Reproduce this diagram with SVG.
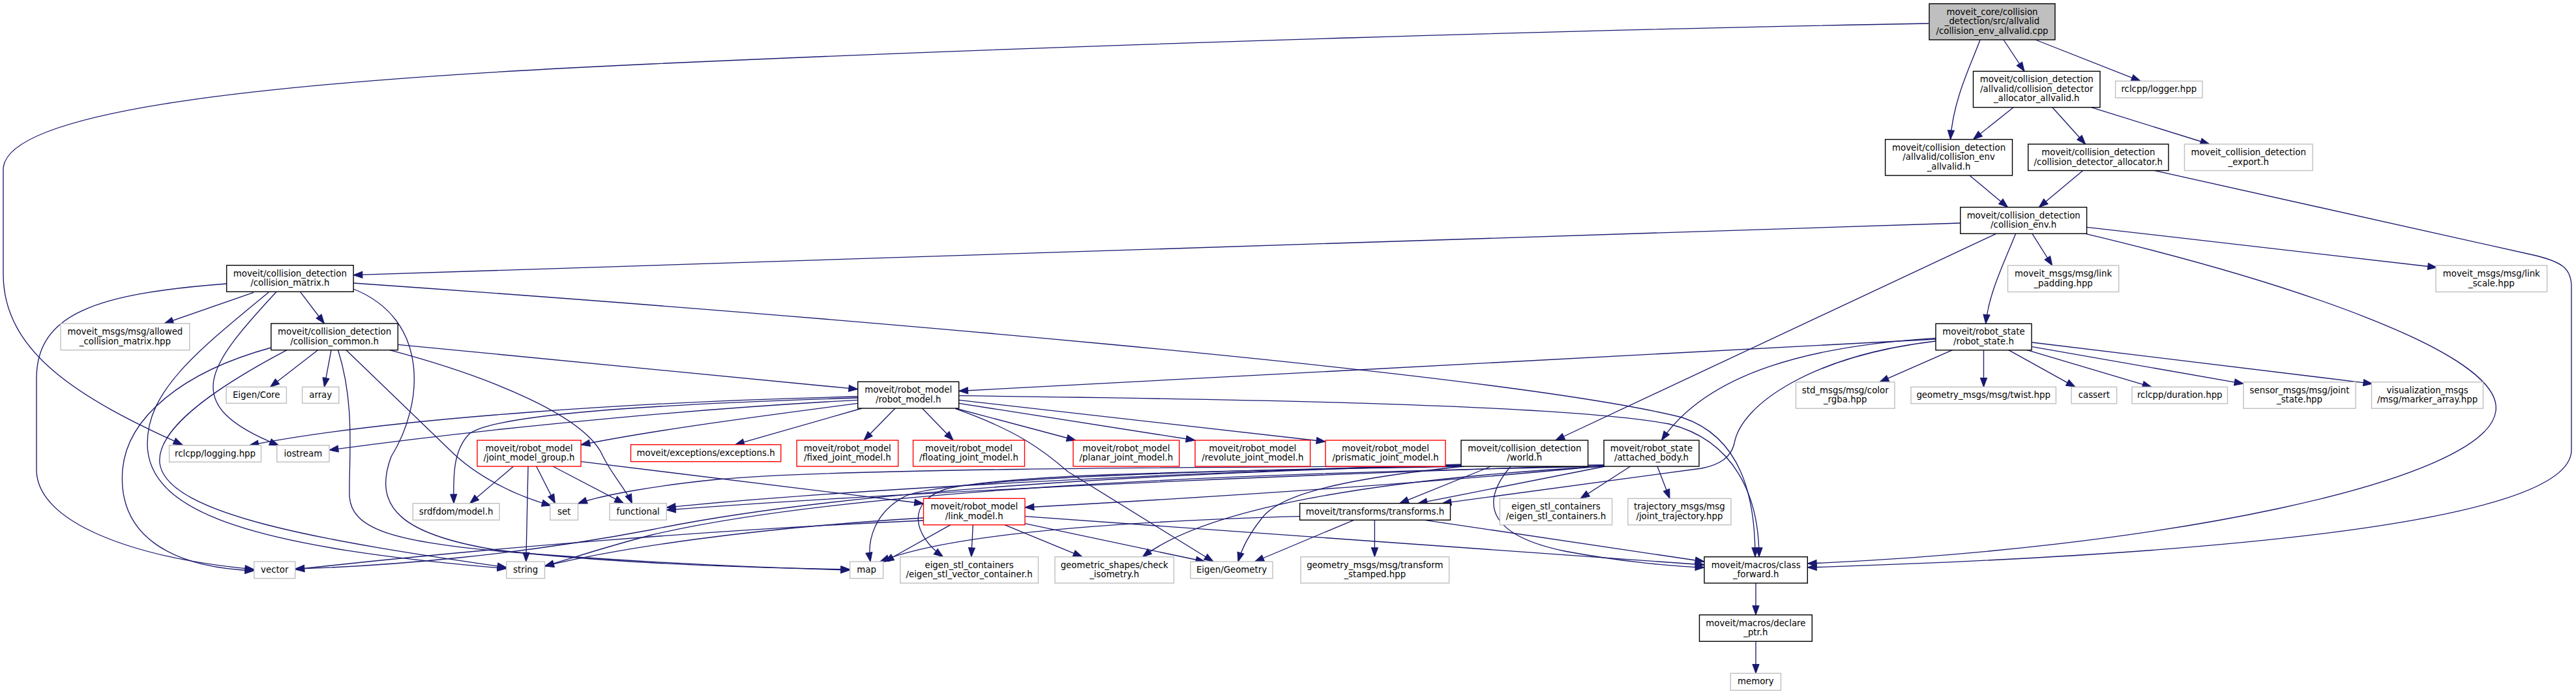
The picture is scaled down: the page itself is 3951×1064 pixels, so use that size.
<svg xmlns="http://www.w3.org/2000/svg" width="3951" height="1064" viewBox="0 0 3951 1064">
<style>
.t{font-family:"DejaVu Sans","Liberation Sans",sans-serif;font-size:13.33px;text-anchor:middle;fill:#000}
.blk{fill:#fff;stroke:#000;stroke-width:1.4}
.gry{fill:#fff;stroke:#bfbfbf;stroke-width:1.4}
.red{fill:#fff;stroke:#ff0000;stroke-width:1.4}
.root{fill:#bfbfbf;stroke:#000;stroke-width:1.4}
.e{fill:none;stroke:#191970;stroke-width:1.33;marker-end:url(#ah)}
</style>
<defs>
<marker id="ah" markerUnits="userSpaceOnUse" markerWidth="14" markerHeight="10" refX="13" refY="4.7" orient="auto" viewBox="0 0 13 9.4" overflow="visible">
<path d="M0,0 L13,4.7 L0,9.4 z" fill="#191970" stroke="#191970" stroke-width="1"/>
</marker>
</defs>
<rect x="0" y="0" width="3951" height="1064" fill="#fff"/>
<g id="edges">
<path class="e" d="M2958,36 C2500,44 1700,66 1000,98 C400,125 5,170 5,260 L5,420 C5,540 120,610 280,682"/>
<path class="e" d="M3073,61 L3105,109.3"/>
<path class="e" d="M3037,61 C3025,95 2996,150 2991.5,213.7"/>
<path class="e" d="M3122,61 L3283,124.3"/>
<path class="e" d="M3088,164.7 L3026.5,213.7"/>
<path class="e" d="M3148,164.7 L3198.7,221"/>
<path class="e" d="M3207.7,164.7 L3388.8,221"/>
<path class="e" d="M3020,268.3 L3079.5,317.7"/>
<path class="e" d="M3195,261.3 L3127.3,317.7"/>
<path class="e" d="M3304,261.3 L3890,392 C3930,402 3944,412 3944,440 L3944,690 C3944,790 3500,847 2772.3,870"/>
<path class="e" d="M3006.8,342 L542,421.7"/>
<path class="e" d="M3117,358.3 L3147.7,407"/>
<path class="e" d="M3200.6,348.3 L3737.6,410"/>
<path class="e" d="M3091.6,358.3 C3075,400 3050,450 3045.7,496.3"/>
<path class="e" d="M3061.6,358.3 L2385.8,675"/>
<path class="e" d="M3198.7,358.3 C3500,430 3840,540 3828,630 C3815,740 3300,842 2772.3,864"/>
<path class="e" d="M389,448.3 L252,496"/>
<path class="e" d="M460.5,447.3 L497.4,496"/>
<path class="e" d="M347.6,435 C150,450 56,480 56,580 L56,720 C56,800 200,855 389.7,873"/>
<path class="e" d="M424,447.3 C320,560 270,620 427.3,682.7"/>
<path class="e" d="M413,447.3 C300,540 226,600 226,680 C226,790 400,840 776.8,871.7"/>
<path class="e" d="M542,443 C660,490 650,620 600,700 C570,780 620,820 760,843 C900,860 1100,870 1303.6,873"/>
<path class="e" d="M542,434 C1200,480 2300,570 2580,640 C2670,670 2692,760 2692,853.7"/>
<path class="e" d="M415.8,533 C280,570 195,640 188,720 C180,820 260,870 389.7,875"/>
<path class="e" d="M440,536.7 C320,600 240,660 245,710 C255,790 500,830 776.8,870"/>
<path class="e" d="M487.5,536.7 L414.5,593.3"/>
<path class="e" d="M508,536.7 L497.4,593.3"/>
<path class="e" d="M518.5,536.7 C545,620 535,700 536,760 C538,810 600,830 765,845 C950,860 1150,870 1303.6,874"/>
<path class="e" d="M531,536.7 L690,690 C730,730 790,760 845,775"/>
<path class="e" d="M597.6,536.7 C760,580 900,640 925,700 C940,730 960,750 969.4,771.7"/>
<path class="e" d="M610.3,528.3 L1315.7,596.7"/>
<path class="e" d="M1315.7,608 C1000,615 600,640 382.7,682.7"/>
<path class="e" d="M1315.7,610 C1000,620 760,635 720,665 C695,690 695,730 696,771.7"/>
<path class="e" d="M1315.7,613.3 C1100,625 800,650 505,690"/>
<path class="e" d="M1315.7,618.3 C1150,640 1000,660 891,682"/>
<path class="e" d="M1322,626 L1127.5,681.7"/>
<path class="e" d="M1373,626 L1325,675"/>
<path class="e" d="M1414.5,626 L1462,675"/>
<path class="e" d="M1465.5,626 L1650,675"/>
<path class="e" d="M1470.7,618.3 L1833,675"/>
<path class="e" d="M1470.7,613.3 L2033,677"/>
<path class="e" d="M1470.7,606.7 C1900,612 2400,620 2560,650 C2660,675 2698,760 2698,853.7"/>
<path class="e" d="M1465.5,626.7 C1560,660 1600,690 1637.8,723 L1861,861"/>
<path class="e" d="M2969,520 L1470.7,599.5"/>
<path class="e" d="M2969,518.3 C2780,530 2620,570 2548.5,675"/>
<path class="e" d="M2969,523 C2780,545 2670,620 2660,680 C2655,700 2640,712 2610,718 L2212,771.7"/>
<path class="e" d="M2994.6,536.7 L2883,585.7"/>
<path class="e" d="M3042.5,536.7 L3042.5,593.3"/>
<path class="e" d="M3080.7,536.7 L3183,593.3"/>
<path class="e" d="M3109,536.7 L3300,593.3"/>
<path class="e" d="M3117,531.7 L3441,588.3"/>
<path class="e" d="M3117,525 L3638.8,588.3"/>
<path class="e" d="M2287,715 L2146.7,771.7"/>
<path class="e" d="M2317,715 C2270,770 2280,820 2400,845 C2480,860 2560,868 2614,870"/>
<path class="e" d="M2185,797.3 L2614,861"/>
<path class="e" d="M2108.4,797.3 L2108.4,853.7"/>
<path class="e" d="M2076.5,797.3 L1924.7,861"/>
<path class="e" d="M1993.6,791.7 C1700,800 1450,820 1350,861"/>
<path class="e" d="M1458,804.7 L1357,861"/>
<path class="e" d="M1492.3,804.7 L1489.8,853.7"/>
<path class="e" d="M1540.8,804.7 L1660,853.7"/>
<path class="e" d="M1572,802.7 L1848,861"/>
<path class="e" d="M1572,791.7 L2614,866"/>
<path class="e" d="M1416.5,794 C1150,810 950,840 835.5,868"/>
<path class="e" d="M1416.5,798 C1100,812 750,840 452.8,873"/>
<path class="e" d="M891,707.7 L1416.5,772"/>
<path class="e" d="M787.6,715 L720.7,771.7"/>
<path class="e" d="M810,715 L806.8,861"/>
<path class="e" d="M822.7,715 L851.4,771.7"/>
<path class="e" d="M848,715 L956.6,771.7"/>
<path class="e" d="M2500.6,715 L2424,764.3"/>
<path class="e" d="M2542,715 L2561,764.3"/>
<path class="e" d="M2462,715 L2175,771.7"/>
<path class="e" d="M2460,714 C2200,740 1900,760 1572,778"/>
<path class="e" d="M2460,715 C2100,735 1850,780 1752.5,853.7"/>
<path class="e" d="M2245,715 C2050,735 1960,760 1935,795 C1915,820 1905,840 1899,861"/>
<path class="e" d="M2243,715 C1900,722 1550,725 1450,750 C1390,770 1400,820 1446.4,853.7"/>
<path class="e" d="M2242,714 C1800,722 1450,735 1390,760 C1340,785 1330,830 1335,861"/>
<path class="e" d="M2241,713 C1800,725 1300,750 1000,812 C800,850 600,868 452.8,872"/>
<path class="e" d="M2241,712 C1800,725 1300,750 1022.3,778"/>
<path class="e" d="M2460,713 C1900,730 1300,760 1022.3,782"/>
<path class="e" d="M2460,713 C2000,716 1300,716 1100,735 C1000,745 920,760 886.5,772"/>
<path class="e" d="M2460,715 C1900,725 1300,750 1000,820 C930,838 880,855 835.5,868"/>
<path class="e" d="M2693,894 L2693,942.7"/>
<path class="e" d="M2693,983.3 L2693,1032.3"/>
</g>
<g id="n_root"><rect class="root" x="2959" y="5.7" width="193" height="55.3"/><text class="t"><tspan x="3055.5" y="22.85">moveit_core/collision</tspan><tspan x="3055.5" y="37.35">_detection/src/allvalid</tspan><tspan x="3055.5" y="51.85">/collision_env_allvalid.cpp</tspan></text></g>
<g id="n_cdaa"><rect class="blk" x="3026.5" y="109.3" width="194.5" height="55.3"/><text class="t"><tspan x="3123.75" y="126.45">moveit/collision_detection</tspan><tspan x="3123.75" y="140.95">/allvalid/collision_detector</tspan><tspan x="3123.75" y="155.45">_allocator_allvalid.h</tspan></text></g>
<g id="n_logger"><rect class="gry" x="3244.6" y="124.3" width="133.4" height="25.7"/><text class="t" x="3311.3" y="141.15">rclcpp/logger.hpp</text></g>
<g id="n_cea"><rect class="blk" x="2891.6" y="213.7" width="194.9" height="55.3"/><text class="t"><tspan x="2989.05" y="230.85">moveit/collision_detection</tspan><tspan x="2989.05" y="245.35">/allvalid/collision_env</tspan><tspan x="2989.05" y="259.85">_allvalid.h</tspan></text></g>
<g id="n_cda"><rect class="blk" x="3110.7" y="221" width="215.3" height="40.5"/><text class="t"><tspan x="3218.35" y="238">moveit/collision_detection</tspan><tspan x="3218.35" y="252.5">/collision_detector_allocator.h</tspan></text></g>
<g id="n_export"><rect class="gry" x="3350.5" y="221" width="196.5" height="40.5"/><text class="t"><tspan x="3448.75" y="238">moveit_collision_detection</tspan><tspan x="3448.75" y="252.5">_export.h</tspan></text></g>
<g id="n_ce"><rect class="blk" x="3006.8" y="317.7" width="193.8" height="40.5"/><text class="t"><tspan x="3103.7" y="334.7">moveit/collision_detection</tspan><tspan x="3103.7" y="349.2">/collision_env.h</tspan></text></g>
<g id="n_lpad"><rect class="gry" x="3079.5" y="407" width="170.2" height="40.5"/><text class="t"><tspan x="3164.6" y="424">moveit_msgs/msg/link</tspan><tspan x="3164.6" y="438.5">_padding.hpp</tspan></text></g>
<g id="n_lscale"><rect class="gry" x="3736" y="407" width="170.6" height="40.5"/><text class="t"><tspan x="3821.3" y="424">moveit_msgs/msg/link</tspan><tspan x="3821.3" y="438.5">_scale.hpp</tspan></text></g>
<g id="n_rs"><rect class="blk" x="2969" y="496.3" width="147" height="40.5"/><text class="t"><tspan x="3042.5" y="513.3">moveit/robot_state</tspan><tspan x="3042.5" y="527.8">/robot_state.h</tspan></text></g>
<g id="n_twist"><rect class="gry" x="2931" y="593.3" width="222.4" height="25.5"/><text class="t" x="3042.2" y="610.05">geometry_msgs/msg/twist.hpp</text></g>
<g id="n_cassert"><rect class="gry" x="3177" y="593.3" width="69.6" height="25.5"/><text class="t" x="3211.8" y="610.05">cassert</text></g>
<g id="n_duration"><rect class="gry" x="3270" y="593.3" width="146.5" height="25.5"/><text class="t" x="3343.25" y="610.05">rclcpp/duration.hpp</text></g>
<g id="n_jstate"><rect class="gry" x="3441" y="585.7" width="172" height="40.5"/><text class="t"><tspan x="3527" y="602.7">sensor_msgs/msg/joint</tspan><tspan x="3527" y="617.2">_state.hpp</tspan></text></g>
<g id="n_marker"><rect class="gry" x="3637.5" y="585.7" width="171" height="40.5"/><text class="t"><tspan x="3723" y="602.7">visualization_msgs</tspan><tspan x="3723" y="617.2">/msg/marker_array.hpp</tspan></text></g>
<g id="n_color"><rect class="gry" x="2754.5" y="585.7" width="151.5" height="40.5"/><text class="t"><tspan x="2830.25" y="602.7">std_msgs/msg/color</tspan><tspan x="2830.25" y="617.2">_rgba.hpp</tspan></text></g>
<g id="n_world"><rect class="blk" x="2241" y="675" width="194.6" height="40"/><text class="t"><tspan x="2338.3" y="691.75">moveit/collision_detection</tspan><tspan x="2338.3" y="706.25">/world.h</tspan></text></g>
<g id="n_ab"><rect class="blk" x="2460" y="675" width="146" height="40"/><text class="t"><tspan x="2533" y="691.75">moveit/robot_state</tspan><tspan x="2533" y="706.25">/attached_body.h</tspan></text></g>
<g id="n_prism"><rect class="red" x="2033" y="675" width="184" height="40"/><text class="t"><tspan x="2125" y="691.75">moveit/robot_model</tspan><tspan x="2125" y="706.25">/prismatic_joint_model.h</tspan></text></g>
<g id="n_rm"><rect class="blk" x="1315.7" y="585.3" width="155" height="40.7"/><text class="t"><tspan x="1393.2" y="602.4">moveit/robot_model</tspan><tspan x="1393.2" y="616.9">/robot_model.h</tspan></text></g>
<g id="n_exc"><rect class="red" x="967.5" y="681.7" width="230.2" height="26"/><text class="t" x="1082.6" y="698.7">moveit/exceptions/exceptions.h</text></g>
<g id="n_fixed"><rect class="red" x="1222" y="675" width="155.6" height="40"/><text class="t"><tspan x="1299.8" y="691.75">moveit/robot_model</tspan><tspan x="1299.8" y="706.25">/fixed_joint_model.h</tspan></text></g>
<g id="n_float"><rect class="red" x="1400.5" y="675" width="171" height="40"/><text class="t"><tspan x="1486" y="691.75">moveit/robot_model</tspan><tspan x="1486" y="706.25">/floating_joint_model.h</tspan></text></g>
<g id="n_planar"><rect class="red" x="1646" y="675" width="162.7" height="40"/><text class="t"><tspan x="1727.35" y="691.75">moveit/robot_model</tspan><tspan x="1727.35" y="706.25">/planar_joint_model.h</tspan></text></g>
<g id="n_rev"><rect class="red" x="1833" y="675" width="176.6" height="40"/><text class="t"><tspan x="1921.3" y="691.75">moveit/robot_model</tspan><tspan x="1921.3" y="706.25">/revolute_joint_model.h</tspan></text></g>
<g id="n_cm"><rect class="blk" x="347.6" y="406.7" width="194.5" height="40.6"/><text class="t"><tspan x="444.85" y="423.75">moveit/collision_detection</tspan><tspan x="444.85" y="438.25">/collision_matrix.h</tspan></text></g>
<g id="n_acm"><rect class="gry" x="93" y="496" width="197.8" height="40.7"/><text class="t"><tspan x="191.9" y="513.1">moveit_msgs/msg/allowed</tspan><tspan x="191.9" y="527.6">_collision_matrix.hpp</tspan></text></g>
<g id="n_cc"><rect class="blk" x="415.8" y="496" width="194.5" height="40.7"/><text class="t"><tspan x="513.05" y="513.1">moveit/collision_detection</tspan><tspan x="513.05" y="527.6">/collision_common.h</tspan></text></g>
<g id="n_ecore"><rect class="gry" x="347" y="593.3" width="92.4" height="25"/><text class="t" x="393.2" y="609.8">Eigen/Core</text></g>
<g id="n_array"><rect class="gry" x="463.6" y="593.3" width="56.2" height="25"/><text class="t" x="491.7" y="609.8">array</text></g>
<g id="n_logging"><rect class="gry" x="259.6" y="682.7" width="140.9" height="25.6"/><text class="t" x="330.05" y="699.5">rclcpp/logging.hpp</text></g>
<g id="n_iostream"><rect class="gry" x="424.7" y="682.7" width="80.3" height="25.6"/><text class="t" x="464.85" y="699.5">iostream</text></g>
<g id="n_jmg"><rect class="red" x="732" y="675" width="159" height="40"/><text class="t"><tspan x="811.5" y="691.75">moveit/robot_model</tspan><tspan x="811.5" y="706.25">/joint_model_group.h</tspan></text></g>
<g id="n_srdf"><rect class="gry" x="633.3" y="771.7" width="132.7" height="25.6"/><text class="t" x="699.65" y="788.5">srdfdom/model.h</text></g>
<g id="n_set"><rect class="gry" x="843.8" y="771.7" width="42.7" height="25.6"/><text class="t" x="865.15" y="788.5">set</text></g>
<g id="n_functional"><rect class="gry" x="935" y="771.7" width="87.3" height="25.6"/><text class="t" x="978.65" y="788.5">functional</text></g>
<g id="n_vector"><rect class="gry" x="389.7" y="861" width="63.1" height="25.7"/><text class="t" x="421.25" y="877.85">vector</text></g>
<g id="n_string"><rect class="gry" x="776.8" y="861" width="58.7" height="25.7"/><text class="t" x="806.15" y="877.85">string</text></g>
<g id="n_lm"><rect class="red" x="1416.5" y="764.3" width="155.5" height="40.4"/><text class="t"><tspan x="1494.25" y="781.25">moveit/robot_model</tspan><tspan x="1494.25" y="795.75">/link_model.h</tspan></text></g>
<g id="n_map"><rect class="gry" x="1303.6" y="861" width="51" height="25.7"/><text class="t" x="1329.1" y="877.85">map</text></g>
<g id="n_esvc"><rect class="gry" x="1380.7" y="853.7" width="211.8" height="40.3"/><text class="t"><tspan x="1486.6" y="870.6">eigen_stl_containers</tspan><tspan x="1486.6" y="885.1">/eigen_stl_vector_container.h</tspan></text></g>
<g id="n_iso"><rect class="gry" x="1618" y="853.7" width="182.4" height="40.3"/><text class="t"><tspan x="1709.2" y="870.6">geometric_shapes/check</tspan><tspan x="1709.2" y="885.1">_isometry.h</tspan></text></g>
<g id="n_egeo"><rect class="gry" x="1826" y="861" width="126" height="25.7"/><text class="t" x="1889" y="877.85">Eigen/Geometry</text></g>
<g id="n_tf"><rect class="blk" x="1993.6" y="771.7" width="230.9" height="25.6"/><text class="t" x="2109.05" y="788.5">moveit/transforms/transforms.h</text></g>
<g id="n_esc"><rect class="gry" x="2300.4" y="764.3" width="172.2" height="40.4"/><text class="t"><tspan x="2386.5" y="781.25">eigen_stl_containers</tspan><tspan x="2386.5" y="795.75">/eigen_stl_containers.h</tspan></text></g>
<g id="n_jtraj"><rect class="gry" x="2496.8" y="764.3" width="158.2" height="40.4"/><text class="t"><tspan x="2575.9" y="781.25">trajectory_msgs/msg</tspan><tspan x="2575.9" y="795.75">/joint_trajectory.hpp</tspan></text></g>
<g id="n_tfs"><rect class="gry" x="1995" y="853.7" width="227.6" height="40.3"/><text class="t"><tspan x="2108.8" y="870.6">geometry_msgs/msg/transform</tspan><tspan x="2108.8" y="885.1">_stamped.hpp</tspan></text></g>
<g id="n_cf"><rect class="blk" x="2614" y="853.7" width="158.3" height="40.3"/><text class="t"><tspan x="2693.15" y="870.6">moveit/macros/class</tspan><tspan x="2693.15" y="885.1">_forward.h</tspan></text></g>
<g id="n_dp"><rect class="blk" x="2606.5" y="942.7" width="172.8" height="40.6"/><text class="t"><tspan x="2692.9" y="959.75">moveit/macros/declare</tspan><tspan x="2692.9" y="974.25">_ptr.h</tspan></text></g>
<g id="n_memory"><rect class="gry" x="2654.3" y="1032.3" width="77.2" height="26"/><text class="t" x="2692.9" y="1049.3">memory</text></g>
</svg>
